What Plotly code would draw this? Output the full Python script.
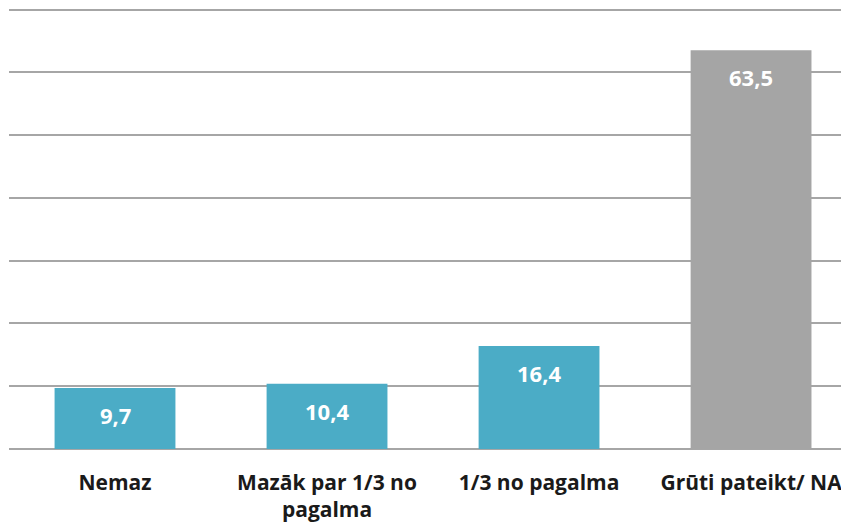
import plotly.graph_objects as go

# data
categories = ["Nemaz", "Mazāk par 1/3 no<br>pagalma", "1/3 no pagalma", "Grūti pateikt/ NA"]
values = [9.7, 10.4, 16.4, 63.5]
bar_colors = ["#4BACC6", "#4BACC6", "#4BACC6", "#A5A5A5"]

fig = go.Figure()
fig.add_trace(go.Bar(x=categories, y=values, marker=dict(color=bar_colors, line=dict(width=0)),
                     width=0.57, hoverinfo="skip"))

# value labels sit inside the bar, a bit below its top
for cat, v in zip(categories, values):
    fig.add_annotation(x=cat, y=v, text=f"{v:.1f}".replace(".", ","), showarrow=False,
                       yshift=-27, font=dict(family="Open Sans", size=22, color="white", weight="bold"))

# page body has an 8px default margin, so offsets are compensated here
fig.update_layout(
    width=849, height=529, plot_bgcolor="white", paper_bgcolor="white",
    margin=dict(l=1, r=8, t=0, b=88), showlegend=False,
    xaxis=dict(range=[-0.5, 3.462], showgrid=False, zeroline=False, showline=False, ticks="",
               tickfont=dict(family="Open Sans", size=21, color="#1a1a1a", weight="bold"),
               ticklabelstandoff=19),
    yaxis=dict(range=[0, 70.25], tickvals=[0, 10, 20, 30, 40, 50, 60, 70], showticklabels=False,
               showgrid=True, gridcolor="#A6A6A6", gridwidth=1.5,
               zeroline=True, zerolinecolor="#A6A6A6", zerolinewidth=1.5),
)

fig.write_html("out.html")
